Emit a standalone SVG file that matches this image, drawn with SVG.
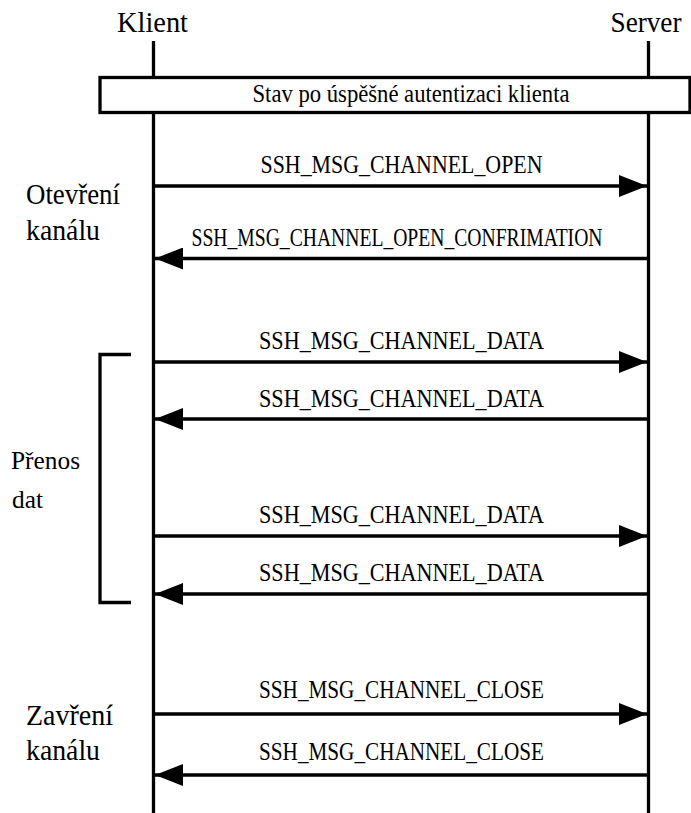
<svg xmlns="http://www.w3.org/2000/svg" width="691" height="813" viewBox="0 0 691 813">
<style>
  text { font-family: "Liberation Serif", "DejaVu Serif", serif; fill: #000; }
  .lbl { font-size: 25px; text-anchor: middle; }
  .side { font-size: 29px; }
  .small { font-size: 25px; }
  .life { stroke: #000; stroke-width: 3.3; fill: none; }
  .msg { stroke: #000; stroke-width: 3.3; fill: none; marker-end: url(#ah); }
</style>
<defs>
  <marker id="ah" viewBox="0 0 28 22" refX="28" refY="11" markerWidth="28" markerHeight="22" markerUnits="userSpaceOnUse" orient="auto">
    <polygon points="0,0 28,11 0,22" fill="#000"/>
  </marker>
</defs>
<rect width="691" height="813" fill="#fff"/>

<g id="klient">
  <line class="life" x1="153.5" y1="41" x2="153.5" y2="813"/>
  <text class="side" font-family="Liberation Serif, serif" x="152.5" y="32" text-anchor="middle" textLength="71" lengthAdjust="spacingAndGlyphs">Klient</text>
</g>
<g id="server">
  <line class="life" x1="648.5" y1="41" x2="648.5" y2="813"/>
  <text class="side" font-family="Liberation Serif, serif" x="646" y="32" text-anchor="middle" textLength="71" lengthAdjust="spacingAndGlyphs">Server</text>
</g>

<g id="state">
  <rect x="100" y="77.5" width="590" height="35" fill="#fff" stroke="#000" stroke-width="3.3"/>
  <text class="lbl" font-family="Liberation Serif, serif" x="411" y="101.5" textLength="317" lengthAdjust="spacingAndGlyphs">Stav po úspěšné autentizaci klienta</text>
</g>

<g id="phase-open">
  <text class="side" font-family="Liberation Serif, serif" x="26" y="204" textLength="94" lengthAdjust="spacingAndGlyphs">Otevření</text>
  <text class="side" font-family="Liberation Serif, serif" x="26" y="240" textLength="74" lengthAdjust="spacingAndGlyphs">kanálu</text>
</g>

<g id="phase-data">
  <path d="M131,354.5 H100 V602.5 H131" fill="none" stroke="#000" stroke-width="3.3"/>
  <text class="small" font-family="Liberation Serif, serif" x="11" y="469" textLength="69" lengthAdjust="spacingAndGlyphs">Přenos</text>
  <text class="small" font-family="Liberation Serif, serif" x="12" y="508" textLength="31" lengthAdjust="spacingAndGlyphs">dat</text>
</g>

<g id="phase-close">
  <text class="side" font-family="Liberation Serif, serif" x="26" y="725" textLength="87" lengthAdjust="spacingAndGlyphs">Zavření</text>
  <text class="side" font-family="Liberation Serif, serif" x="26" y="760" textLength="74" lengthAdjust="spacingAndGlyphs">kanálu</text>
</g>

<g id="connectors">
  <line class="msg" x1="155" y1="186" x2="647" y2="186"/>
  <text class="lbl" font-family="Liberation Serif, serif" x="401.5" y="173" textLength="282" lengthAdjust="spacingAndGlyphs">SSH_MSG_CHANNEL_OPEN</text>

  <line class="msg" x1="647" y1="258.5" x2="155" y2="258.5"/>
  <text class="lbl" font-family="Liberation Serif, serif" x="397" y="246" textLength="411" lengthAdjust="spacingAndGlyphs">SSH_MSG_CHANNEL_OPEN_CONFRIMATION</text>

  <line class="msg" x1="155" y1="362" x2="647" y2="362"/>
  <text class="lbl" font-family="Liberation Serif, serif" x="401.5" y="349" textLength="285" lengthAdjust="spacingAndGlyphs">SSH_MSG_CHANNEL_DATA</text>

  <line class="msg" x1="647" y1="419" x2="155" y2="419"/>
  <text class="lbl" font-family="Liberation Serif, serif" x="401.5" y="407" textLength="285" lengthAdjust="spacingAndGlyphs">SSH_MSG_CHANNEL_DATA</text>

  <line class="msg" x1="155" y1="536" x2="647" y2="536"/>
  <text class="lbl" font-family="Liberation Serif, serif" x="401.5" y="523" textLength="285" lengthAdjust="spacingAndGlyphs">SSH_MSG_CHANNEL_DATA</text>

  <line class="msg" x1="647" y1="594" x2="155" y2="594"/>
  <text class="lbl" font-family="Liberation Serif, serif" x="401.5" y="581" textLength="285" lengthAdjust="spacingAndGlyphs">SSH_MSG_CHANNEL_DATA</text>

  <line class="msg" x1="155" y1="714" x2="647" y2="714"/>
  <text class="lbl" font-family="Liberation Serif, serif" x="401.5" y="698" textLength="285" lengthAdjust="spacingAndGlyphs">SSH_MSG_CHANNEL_CLOSE</text>

  <line class="msg" x1="647" y1="775" x2="155" y2="775"/>
  <text class="lbl" font-family="Liberation Serif, serif" x="401.5" y="760" textLength="285" lengthAdjust="spacingAndGlyphs">SSH_MSG_CHANNEL_CLOSE</text>
</g>
</svg>
